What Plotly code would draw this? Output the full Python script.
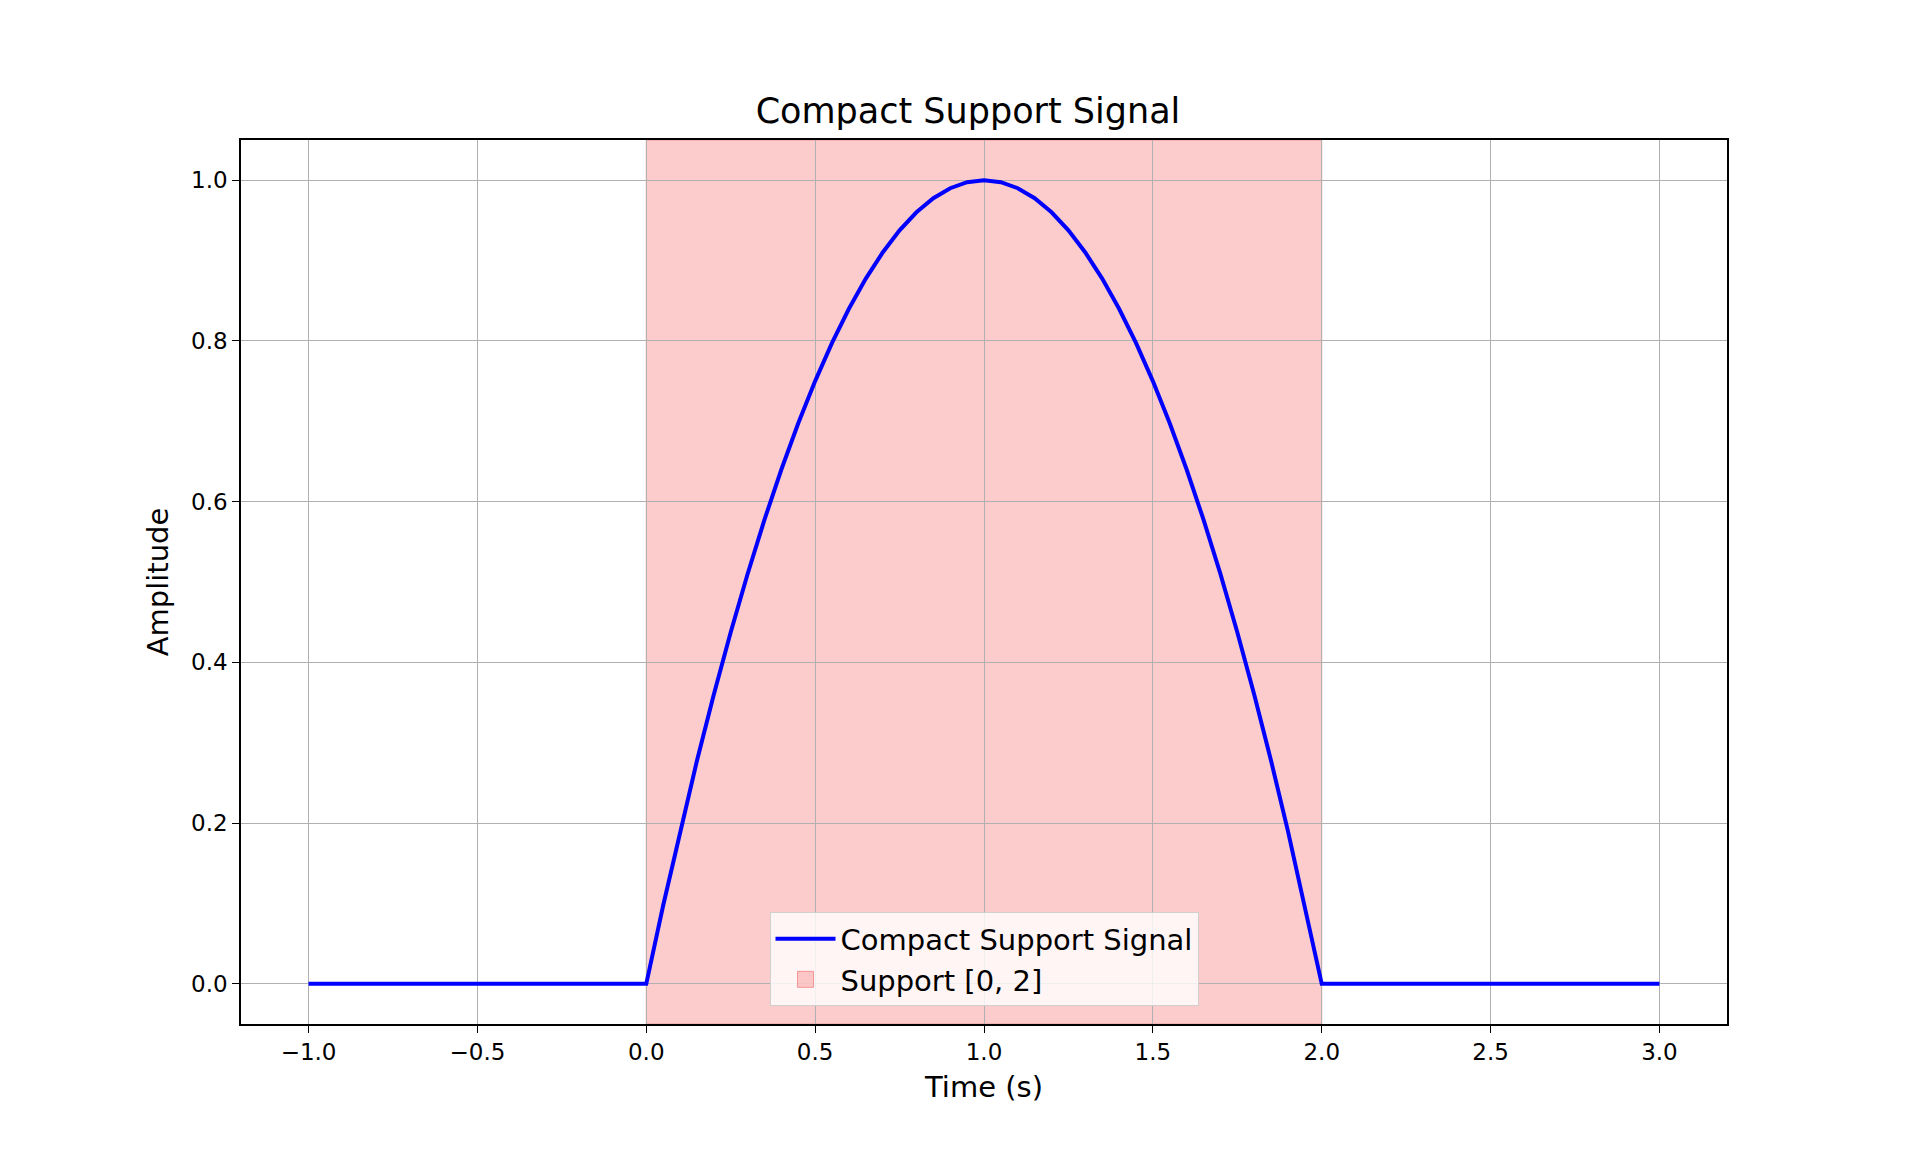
import plotly.graph_objects as go

# Signal, 0.05 s steps
time_s = [-1.0, -0.5, 0.0, 0.05, 0.1, 0.15, 0.2, 0.25, 0.3, 0.35, 0.4, 0.45, 0.5,
          0.55, 0.6, 0.65, 0.7, 0.75, 0.8, 0.85, 0.9, 0.95, 1.0,
          1.05, 1.1, 1.15, 1.2, 1.25, 1.3, 1.35, 1.4, 1.45, 1.5,
          1.55, 1.6, 1.65, 1.7, 1.75, 1.8, 1.85, 1.9, 1.95, 2.0, 2.5, 3.0]
amplitude = [0.0, 0.0, 0.0, 0.0975, 0.19, 0.2775, 0.36, 0.4375, 0.51, 0.5775, 0.64, 0.6975, 0.75,
             0.7975, 0.84, 0.8775, 0.91, 0.9375, 0.96, 0.9775, 0.99, 0.9975, 1.0,
             0.9975, 0.99, 0.9775, 0.96, 0.9375, 0.91, 0.8775, 0.84, 0.7975, 0.75,
             0.6975, 0.64, 0.5775, 0.51, 0.4375, 0.36, 0.2775, 0.19, 0.0975, 0.0, 0.0, 0.0]
support = [0.0, 2.0]

font = "DejaVu Sans"

fig = go.Figure()

# Support band
fig.add_vrect(x0=support[0], x1=support[1], fillcolor="rgba(248,120,120,0.38)",
              line=dict(color="rgba(220,120,120,0.6)", width=1), layer="below")

fig.add_trace(go.Scatter(x=time_s, y=amplitude, mode="lines", name="Compact Support Signal",
                         line=dict(color="blue", width=4)))
fig.add_trace(go.Scatter(x=[None], y=[None], mode="markers", name="Support [0, 2]",
                         marker=dict(symbol="square", size=26, color="rgba(248,120,120,0.38)",
                                     line=dict(color="rgba(240,120,120,0.7)", width=1))))

axis = dict(showline=True, linecolor="black", linewidth=1.5, mirror=True,
            ticks="outside", ticklen=7, tickcolor="black",
            showgrid=True, gridcolor="#b0b0b0", gridwidth=1.4, zeroline=False,
            tickfont=dict(family=font, size=23, color="black"))

fig.update_layout(
    width=1920, height=1152,
    plot_bgcolor="rgba(0,0,0,0)", paper_bgcolor="white",
    margin=dict(l=233, r=201, t=132, b=136),
    title=dict(text="Compact Support Signal", x=0.5, xanchor="center", y=0.9, yanchor="bottom",
               font=dict(family=font, size=35, color="black")),
    xaxis=dict(axis, range=[-1.2, 3.2], tickvals=[-1, -0.5, 0, 0.5, 1, 1.5, 2, 2.5, 3],
               ticktext=["\u22121.0", "\u22120.5", "0.0", "0.5", "1.0", "1.5", "2.0", "2.5", "3.0"],
               title=dict(text="Time (s)", font=dict(family=font, size=29, color="black"), standoff=12)),
    yaxis=dict(axis, range=[-0.05, 1.05], tickvals=[0, 0.2, 0.4, 0.6, 0.8, 1.0], tickformat=".1f",
               title=dict(text="Amplitude", font=dict(family=font, size=29, color="black"), standoff=14)),
    showlegend=True,
    legend=dict(x=0.5, xanchor="center", y=0.02, yanchor="bottom",
                bgcolor="rgba(255,255,255,0.8)", bordercolor="#d0d0d0", borderwidth=1,
                itemwidth=60, tracegroupgap=8,
                font=dict(family=font, size=29, color="black")),
)

fig.write_html("out.html")
